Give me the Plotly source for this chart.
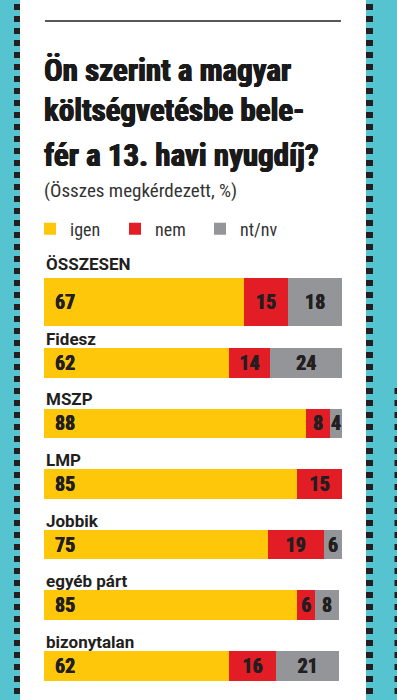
import plotly.graph_objects as go

# ---- data ----
categories = ["ÖSSZESEN", "Fidesz", "MSZP", "LMP", "Jobbik", "egyéb párt", "bizonytalan"]
igen = [67, 62, 88, 85, 75, 85, 62]
nem = [15, 14, 8, 15, 19, 6, 16]
ntnv = [18, 24, 4, 0, 6, 8, 21]
series_names = ["igen", "nem", "nt/nv"]

title_lines = ["Ön szerint a magyar", "költségvetésbe bele-", "fér a 13. havi nyugdíj?"]
subtitle = "(Összes megkérdezett, %)"

# ---- styles ----
YELLOW = "#FFC70A"
RED = "#E31D25"
GRAY = "#939598"
CYAN = "#56C4D0"
INK = "#231F20"
bar_widths = [0.79] + [0.49] * 6

W, H = 397, 700
L, R, T, B = 44, 55, 272, 4
PW, PH = W - L - R, H - T - B


def px2x(px):
    return (px - L) / PW


def py2y(py):
    return 1 - (py - T) / PH


COND = "Roboto Condensed, Open Sans Condensed, DejaVu Sans Condensed, sans-serif"
SANS = "Roboto, Liberation Sans, Arial, sans-serif"

fig = go.Figure()


def lab(vals):
    return [str(v) if v else "" for v in vals]


VAL_FONT = dict(family=COND, size=20, color=INK, weight="bold",
                shadow="0.3px 0 0 #231F20, -0.3px 0 0 #231F20")

fig.add_trace(go.Bar(
    name=series_names[0], y=categories, x=igen, orientation="h", width=bar_widths,
    marker=dict(color=YELLOW, line=dict(width=0)), hoverinfo="skip",
))
fig.add_trace(go.Bar(
    name=series_names[1], y=categories, x=nem, orientation="h", width=bar_widths,
    marker=dict(color=RED, line=dict(width=0)), text=lab(nem), texttemplate="%{text}",
    textposition="inside", insidetextanchor="middle", textangle=0, constraintext="none",
    insidetextfont=VAL_FONT, hoverinfo="skip",
))
fig.add_trace(go.Bar(
    name=series_names[2], y=categories, x=ntnv, orientation="h", width=bar_widths,
    marker=dict(color=GRAY, line=dict(width=0)), text=lab(ntnv), texttemplate="%{text}",
    textposition="inside", insidetextanchor="middle", textangle=0, constraintext="none",
    insidetextfont=VAL_FONT, hoverinfo="skip",
))

annotations = []
# yellow values
for c, v in zip(categories, igen):
    annotations.append(dict(
        x=0, y=c, xref="x", yref="y", xanchor="left", yanchor="middle", xshift=9,
        text=str(v), showarrow=False, font=VAL_FONT,
    ))
# category labels
for i, c in enumerate(categories):
    annotations.append(dict(
        x=0, y=c, xref="paper", yref="y", xanchor="left", yanchor="middle",
        yshift=38 if i == 0 else 24, text=c, showarrow=False,
        font=dict(family=SANS, size=17, color=INK, weight="bold"),
    ))
# title
TITLE_SHADOW = "0.6px 0 0 #1A1A1A, -0.6px 0 0 #1A1A1A, 0 0.4px 0 #1A1A1A"
for t, yc in zip(title_lines, [70, 111, 155]):
    annotations.append(dict(
        x=px2x(42), y=py2y(yc), xref="paper", yref="paper", xanchor="left", yanchor="middle",
        text=t, showarrow=False,
        font=dict(family=COND, size=31, color="#1A1A1A", weight="bold", shadow=TITLE_SHADOW),
    ))
annotations.append(dict(
    x=px2x(42), y=py2y(191), xref="paper", yref="paper", xanchor="left", yanchor="middle",
    text=subtitle, showarrow=False, font=dict(family=COND, size=19, color="#333333"),
))

shapes = [
    dict(type="rect", xref="paper", yref="paper", x0=px2x(0), x1=px2x(20), y0=py2y(0), y1=py2y(H),
         fillcolor=CYAN, line=dict(width=0), layer="below"),
    dict(type="rect", xref="paper", yref="paper", x0=px2x(366), x1=px2x(W), y0=py2y(0), y1=py2y(H),
         fillcolor=CYAN, line=dict(width=0), layer="below"),
    dict(type="line", xref="paper", yref="paper", x0=px2x(17), x1=px2x(17), y0=py2y(4), y1=py2y(H),
         line=dict(color=INK, width=6, dash="6px,6px")),
    dict(type="line", xref="paper", yref="paper", x0=px2x(369.5), x1=px2x(369.5), y0=py2y(4), y1=py2y(H),
         line=dict(color=INK, width=7, dash="6px,6px")),
    dict(type="line", xref="paper", yref="paper", x0=px2x(398), x1=px2x(398), y0=py2y(388), y1=py2y(H),
         line=dict(color=INK, width=7, dash="6px,6px")),
    dict(type="line", xref="paper", yref="paper", x0=px2x(45), x1=px2x(341), y0=py2y(21), y1=py2y(21),
         line=dict(color=INK, width=1.5)),
]

fig.update_layout(
    width=W, height=H, autosize=False,
    margin=dict(l=L, r=R, t=T, b=B, pad=0),
    paper_bgcolor="white", plot_bgcolor="white",
    barmode="stack",
    xaxis=dict(range=[0, 100], visible=False, fixedrange=True),
    yaxis=dict(type="category", categoryorder="array", categoryarray=categories,
               range=[6.5, -0.5], visible=False, fixedrange=True),
    showlegend=True,
    legend=dict(orientation="h", x=px2x(30), y=py2y(229), xanchor="left", yanchor="middle",
                font=dict(family=COND, size=18, color="#333333"), entrywidth=40,
                traceorder="normal", bgcolor="rgba(0,0,0,0)", borderwidth=0,
                itemclick=False, itemdoubleclick=False),
    annotations=annotations,
    shapes=shapes,
    font=dict(family=SANS),
)

fig.write_html("out.html", config={"displayModeBar": False},
               post_script="document.body.style.margin='0';")
